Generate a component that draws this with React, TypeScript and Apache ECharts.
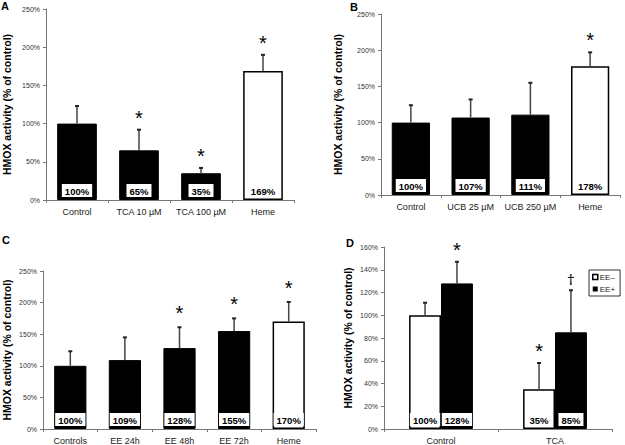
import React, { useEffect, useRef } from 'react';
import * as echarts from 'echarts';

const FONT = '"Liberation Sans", Arial, sans-serif';

const catsA = ['Control', 'TCA 10 µM', 'TCA 100 µM', 'Heme'];
const valsA = [100, 65, 35, 169];
const errA = [23, 27, 7, 21];
const marksA = ['', '*', '*', '*'];

const catsB = ['Control', 'UCB 25 µM', 'UCB 250 µM', 'Heme'];
const valsB = [100, 107, 111, 178];
const errB = [24, 25, 44, 19];
const marksB = ['', '', '', '*'];

const catsC = ['Controls', 'EE 24h', 'EE 48h', 'EE 72h', 'Heme'];
const valsC = [100, 109, 128, 155, 170];
const errC = [23, 36, 33, 20, 31];
const marksC = ['', '', '*', '*', '*'];

const catsD = ['Control', 'TCA'];
const valsDminus = [100, 35];
const errDminus = [11, 23];
const marksDminus = ['', '*'];
const valsDplus = [128, 85];
const errDplus = [19, 37];
const marksDplus = ['*', '†'];

const panelLetters = ['A', 'B', 'C', 'D'];
const yAxisName = 'HMOX activity (% of control)';

const BLACK = { color: '#000', borderColor: '#000', borderWidth: 1 };
const WHITE = { color: '#fff', borderColor: '#000', borderWidth: 1.5 };

const valueLabel = {
  show: true,
  position: 'insideBottom',
  distance: 3,
  formatter: '{c}%',
  backgroundColor: '#fff',
  padding: [2, 3, 1, 3],
  color: '#000',
  fontWeight: 'bold',
  fontSize: 9.5,
  fontFamily: FONT,
};

function errRender(marks: string[], offsetFrac: number, gap: number) {
  return (params: any, api: any) => {
    const i = api.value(0);
    const v = api.value(1);
    const e = api.value(2);
    const cw = api.size([1, 0])[0];
    const b = api.coord([i, v]);
    const t = api.coord([i, v + e]);
    const x = b[0] + cw * offsetFrac;
    const children: any[] = [
      { type: 'line', shape: { x1: x, y1: b[1], x2: x, y2: t[1] }, style: { stroke: '#444', lineWidth: 1.5 } },
      { type: 'line', shape: { x1: x - 2, y1: t[1], x2: x + 2, y2: t[1] }, style: { stroke: '#222', lineWidth: 2 } },
    ];
    const m = marks[params.dataIndex];
    if (m) {
      const dag = m === '†';
      children.push({
        type: 'text',
        x,
        y: t[1] - (dag ? 11 : gap),
        style: {
          text: m,
          fontSize: dag ? 15 : 20,
          fontFamily: dag ? '"Noto Sans", sans-serif' : FONT,
          fill: '#000000',
          opacity: 1,
          align: 'center',
          verticalAlign: 'middle',
        },
      });
    }
    return { type: 'group', children };
  };
}

function panelSeries(idx: number, cats: string[], vals: number[], errs: number[], marks: string[], gap: number) {
  return [
    {
      type: 'bar',
      xAxisIndex: idx,
      yAxisIndex: idx,
      barWidth: idx === 2 ? '59%' : '64%',
      data: vals.map((v, i) => ({ value: v, itemStyle: cats[i] === 'Heme' ? WHITE : BLACK })),
      label: valueLabel,
    },
    {
      type: 'custom',
      xAxisIndex: idx,
      yAxisIndex: idx,
      z: 5,
      data: vals.map((v, i) => [i, v, errs[i]]),
      renderItem: errRender(marks, 0, gap),
    },
  ];
}

const grids = [
  { left: 40, top: 9, width: 254, height: 191 },
  { left: 381, top: 14, width: 239, height: 181 },
  { left: 36, top: 271, width: 280, height: 159 },
  { left: 384, top: 247, width: 228, height: 185 },
];
const letterPos = [
  [5, 6],
  [354, 7],
  [6, 240],
  [350, 243],
];
const nameGaps = [34, 38, 31, 31];

export default function App() {
  const ref = useRef<HTMLDivElement>(null);
  useEffect(() => {
    if (!ref.current) return;
    const chart = echarts.init(ref.current, null, { renderer: 'svg' });
    const allCats = [catsA, catsB, catsC, catsD];
    const xAxis = allCats.map((c, i) => ({
      type: 'category',
      gridIndex: i,
      data: c,
      axisLine: { lineStyle: { color: '#777', width: 1 } },
      axisTick: { show: true, length: 3, lineStyle: { color: '#777' } },
      axisLabel: { interval: 0, fontSize: 9, color: '#222', fontFamily: FONT, margin: 7 },
    }));
    const yAxis = [0, 1, 2, 3].map((i) => ({
      type: 'value',
      gridIndex: i,
      min: 0,
      max: i === 3 ? 160 : 250,
      interval: i === 3 ? 20 : 50,
      name: yAxisName,
      nameLocation: 'middle',
      nameGap: nameGaps[i],
      nameTextStyle: { fontSize: 10.5, fontWeight: 'bold', color: '#000', fontFamily: FONT },
      axisLine: { show: true, lineStyle: { color: '#777', width: 1 } },
      axisTick: { show: true, length: 3, lineStyle: { color: '#777' } },
      axisLabel: { fontSize: 7, color: '#333', fontFamily: FONT, margin: 6, formatter: '{value}%' },
      splitLine: { show: false },
    }));
    const series: any[] = [
      ...panelSeries(0, catsA, valsA, errA, marksA, 12),
      ...panelSeries(1, catsB, valsB, errB, marksB, 12),
      ...panelSeries(2, catsC, valsC, errC, marksC, 14),
      {
        name: 'EE–',
        type: 'bar',
        xAxisIndex: 3,
        yAxisIndex: 3,
        barGap: '0%',
        barCategoryGap: '44%',
        data: valsDminus,
        itemStyle: WHITE,
        label: valueLabel,
      },
      {
        name: 'EE+',
        type: 'bar',
        xAxisIndex: 3,
        yAxisIndex: 3,
        barGap: '0%',
        barCategoryGap: '44%',
        data: valsDplus,
        itemStyle: BLACK,
        label: valueLabel,
      },
      {
        type: 'custom',
        xAxisIndex: 3,
        yAxisIndex: 3,
        z: 5,
        data: valsDminus.map((v, i) => [i, v, errDminus[i]]),
        renderItem: errRender(marksDminus, -0.14, 12),
      },
      {
        type: 'custom',
        xAxisIndex: 3,
        yAxisIndex: 3,
        z: 5,
        data: valsDplus.map((v, i) => [i, v, errDplus[i]]),
        renderItem: errRender(marksDplus, 0.14, 12),
      },
    ];
    chart.setOption({
      animation: false,
      backgroundColor: '#fff',
      grid: grids,
      xAxis,
      yAxis,
      series,
      legend: {
        data: [
          { name: 'EE–', icon: 'rect', itemStyle: { color: '#fff', borderColor: '#000', borderWidth: 1.5 } },
          { name: 'EE+', icon: 'rect', itemStyle: { color: '#000', borderColor: '#000', borderWidth: 0 } },
        ],
        icon: 'rect',
        orient: 'vertical',
        left: 589,
        top: 270,
        itemWidth: 5,
        itemHeight: 5,
        itemGap: 4,
        padding: [3, 5, 3, 3],
        borderColor: '#000',
        borderWidth: 0.8,
        textStyle: { fontSize: 8, color: '#222', fontFamily: FONT, padding: [0, 0, 0, -3] },
        selectedMode: false,
      },
      graphic: panelLetters.map((l, i) => ({
        type: 'text',
        x: letterPos[i][0],
        y: letterPos[i][1],
        style: {
          text: l,
          fontSize: 11,
          fontWeight: 'bold',
          fontFamily: FONT,
          fill: '#000',
          align: 'center',
          verticalAlign: 'middle',
        },
      })),
    });
    return () => chart.dispose();
  }, []);
  return <div ref={ref} style={{ position: 'fixed', left: 0, top: 0, width: 625, height: 445 }} />;
}
